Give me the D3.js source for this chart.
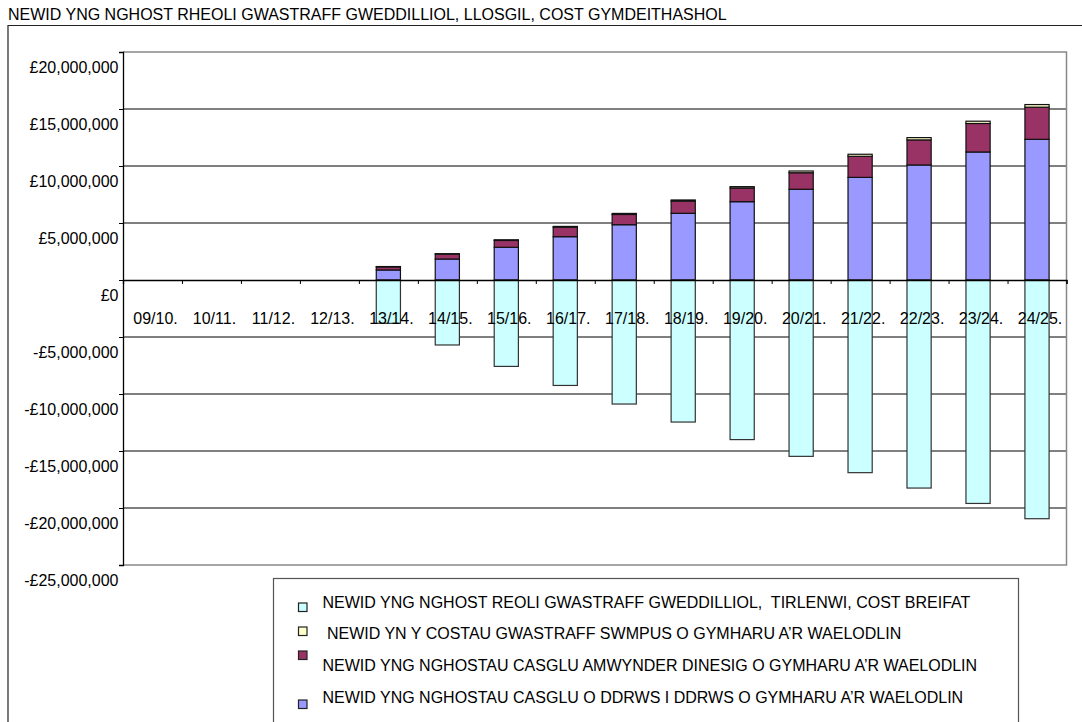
<!DOCTYPE html>
<html>
<head>
<meta charset="utf-8">
<script src="https://cdn.jsdelivr.net/npm/d3@7"></script>
<style>
  html, body { margin: 0; padding: 0; background: #fff; }
  svg { display: block; font-family: "Liberation Sans", Arial, sans-serif; }
</style>
</head>
<body>
<svg id="chart" width="1082" height="722"></svg>
<script>
// ---------- DATA (values in £) ----------
const title = "NEWID YNG NGHOST RHEOLI GWASTRAFF GWEDDILLIOL, LLOSGIL, COST GYMDEITHASHOL";
const categories = ["09/10.", "10/11.", "11/12.", "12/13.", "13/14.", "14/15.", "15/16.", "16/17.",
                    "17/18.", "18/19.", "19/20.", "20/21.", "21/22.", "22/23.", "23/24.", "24/25."];
// door-to-door collection (purple)
const doorToDoor = [0, 0, 0, 0, 880000, 1840000, 2870000, 3800000, 4850000, 5850000, 6870000, 7960000,
                    9000000, 10090000, 11230000, 12340000];
// civic amenity collection (maroon)
const civicAmenity = [0, 0, 0, 0, 270000, 420000, 600000, 830000, 900000, 1070000, 1200000, 1450000,
                      1850000, 2200000, 2500000, 2820000];
// bulky waste (yellow)
const bulkyWaste = [0, 0, 0, 0, 30000, 50000, 60000, 70000, 90000, 100000, 120000, 150000,
                    180000, 200000, 200000, 230000];
// residual landfill, private cost (cyan, negative)
const landfill = [0, 0, 0, 0, -3800000, -5700000, -7580000, -9250000, -10880000, -12460000, -14000000,
                  -15470000, -16900000, -18250000, -19600000, -20940000];
const yTicks = [20000000, 15000000, 10000000, 5000000, 0, -5000000, -10000000, -15000000, -20000000, -25000000];
const legendLabels = [
  "NEWID YNG NGHOST REOLI GWASTRAFF GWEDDILLIOL,  TIRLENWI, COST BREIFAT",
  " NEWID YN Y COSTAU GWASTRAFF SWMPUS O GYMHARU A\u2019R WAELODLIN",
  "NEWID YNG NGHOSTAU CASGLU AMWYNDER DINESIG O GYMHARU A\u2019R WAELODLIN",
  "NEWID YNG NGHOSTAU CASGLU O DDRWS I DDRWS O GYMHARU A\u2019R WAELODLIN"
];

// ---------- LAYOUT ----------
const svg = d3.select("#chart");
const plot = { left: 123, right: 1066.5, top: 52, bottom: 565 };
const colors = { landfill: "#CCFFFF", bulky: "#FFFFCC", civic: "#993366", door: "#9999FF" };
const fs = 16;

svg.append("rect").attr("width", 1082).attr("height", 722).attr("fill", "#fff");

// title
svg.append("text").attr("x", 8).attr("y", 19.5).attr("font-size", 16).attr("fill", "#000").text(title);

// outer frame
svg.append("path").attr("d", "M8,722 V25.5 H1082").attr("fill", "none").attr("stroke", "#222").attr("stroke-width", 1.2);

const x = d3.scaleBand().domain(categories).range([plot.left, plot.right]);
const xEdge = d3.scaleLinear().domain([0, categories.length]).range([plot.left, plot.right]);
const y = d3.scaleLinear().domain([-25000000, 20000000]).range([plot.bottom, plot.top]);
const barW = x.bandwidth() * 0.41;

// gridlines
svg.append("g").selectAll("line").data(yTicks.filter(v => v !== 0 && v !== 20000000 && v !== -25000000))
  .join("line")
  .attr("x1", plot.left).attr("x2", plot.right)
  .attr("y1", d => y(d)).attr("y2", d => y(d))
  .attr("stroke", "#000").attr("stroke-width", 1);

// plot border (top, right, bottom) grey
svg.append("path")
  .attr("d", `M${plot.left},${y(20000000)} H${plot.right} V${y(-25000000)} H${plot.left}`)
  .attr("fill", "none").attr("stroke", "#888").attr("stroke-width", 1.5);

// stacked positive bars
const rows = categories.map((c, i) => ({ cat: c, door: doorToDoor[i], civic: civicAmenity[i], bulky: bulkyWaste[i] }));
const stack = d3.stack().keys(["door", "civic", "bulky"])(rows);
const gBars = svg.append("g");
stack.forEach(layer => {
  gBars.append("g").selectAll("rect").data(layer.filter(d => d[1] - d[0] > 0))
    .join("rect")
    .attr("x", d => x(d.data.cat) + (x.bandwidth() - barW) / 2)
    .attr("width", barW)
    .attr("y", d => y(d[1]))
    .attr("height", d => y(d[0]) - y(d[1]))
    .attr("fill", colors[layer.key])
    .attr("stroke", "#111").attr("stroke-width", 1.2);
});
// negative landfill bars
gBars.append("g").selectAll("rect").data(categories.map((c, i) => ({ cat: c, v: landfill[i] })).filter(d => d.v < 0))
  .join("rect")
  .attr("x", d => x(d.cat) + (x.bandwidth() - barW) / 2)
  .attr("width", barW)
  .attr("y", y(0))
  .attr("height", d => y(d.v) - y(0))
  .attr("fill", colors.landfill)
  .attr("stroke", "#333").attr("stroke-width", 1.2);

// y axis
const fmt = v => (v < 0 ? "-" : "") + "£" + d3.format(",")(Math.abs(v));
const yAxis = svg.append("g").attr("transform", `translate(${plot.left},0)`)
  .call(d3.axisLeft(y).tickValues(yTicks).tickFormat(fmt).tickSize(4).tickPadding(0.5));
yAxis.select(".domain").attr("stroke", "#000").attr("stroke-width", 1.3);
yAxis.selectAll(".tick line").attr("stroke", "#000");
yAxis.selectAll(".tick text").attr("font-size", fs).attr("font-family", "Liberation Sans, Arial, sans-serif")
  .attr("fill", "#000").attr("dy", "1.3em");

// x axis at zero: ticks at category boundaries
const xTicks = svg.append("g").attr("transform", `translate(0,${y(0)})`)
  .call(d3.axisBottom(xEdge).tickValues(d3.range(0, categories.length + 1)).tickFormat("").tickSize(4));
xTicks.select(".domain").attr("stroke", "#000").attr("stroke-width", 1.3);
xTicks.selectAll(".tick line").attr("stroke", "#000");

const xLabels = svg.append("g").attr("transform", `translate(3,${y(0)})`)
  .call(d3.axisBottom(x).tickSize(0).tickPadding(32));
xLabels.select(".domain").remove();
xLabels.selectAll(".tick text").attr("font-size", fs).attr("font-family", "Liberation Sans, Arial, sans-serif")
  .attr("fill", "#000").attr("dy", "0").attr("y", 43.5);

// legend
const legend = svg.append("g");
legend.append("rect").attr("x", 273.5).attr("y", 578.5).attr("width", 745).attr("height", 160)
  .attr("fill", "#fff").attr("stroke", "#555").attr("stroke-width", 1.2);
const legendColors = [colors.landfill, colors.bulky, colors.civic, colors.door];
const markerY = [603, 627, 651, 700];
const textY = [602, 633, 665, 697];
legendLabels.forEach((lab, i) => {
  legend.append("rect").attr("x", 298.5).attr("y", markerY[i]).attr("width", 8.5).attr("height", 8.5)
    .attr("fill", legendColors[i]).attr("stroke", "#222").attr("stroke-width", 1.2);
  legend.append("text").attr("x", 322.5).attr("y", textY[i]).attr("dy", "0.36em")
    .attr("font-size", fs).attr("fill", "#000").attr("xml:space", "preserve").style("white-space", "pre").text(lab);
});
</script>
</body>
</html>
